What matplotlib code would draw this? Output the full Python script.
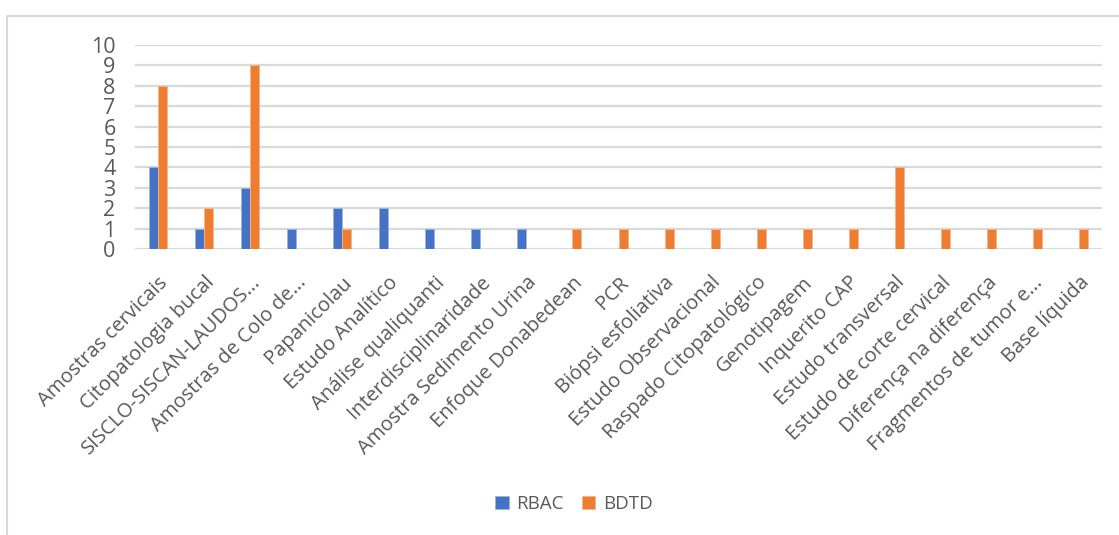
import numpy as np
import matplotlib.pyplot as plt
from matplotlib.lines import Line2D

plt.rcParams['font.family'] = ['Open Sans', 'DejaVu Sans']

categorias = [
    'Amostras cervicais', 'Citopatologia bucal', 'SISCLO-SISCAN-LAUDOS...',
    'Amostras de Colo de...', 'Papanicolau', 'Estudo Analítico',
    'Análise qualiquanti', 'Interdisciplinaridade', 'Amostra Sedimento Urina',
    'Enfoque Donabedean', 'PCR', 'Biópsi esfoliativa', 'Estudo Observacional',
    'Raspado Citopatológico', 'Genotipagem', 'Inquerito CAP',
    'Estudo transversal', 'Estudo de corte cervical', 'Diferença na diferença',
    'Fragmentos de tumor e...', 'Base líquida',
]
rbac = [4, 1, 3, 1, 2, 2, 1, 1, 1, 0, 0, 0, 0, 0, 0, 0, 0, 0, 0, 0, 0]
bdtd = [8, 2, 9, 0, 1, 0, 0, 0, 0, 1, 1, 1, 1, 1, 1, 1, 4, 1, 1, 1, 1]

AZUL = '#4472C4'
LARANJA = '#ED7D31'
CINZA = '#595959'
GRADE = '#D9D9D9'

W, H = 1119, 535
fig = plt.figure(figsize=(W / 100, H / 100), dpi=100)
ax = fig.add_axes([135 / W, 1 - 249 / H, (1102 - 135) / W, (249 - 45) / H])

x = np.arange(len(categorias))
larg = 0.196
ax.bar(x - larg / 2, rbac, larg, color=AZUL, edgecolor='#9DB3E0', linewidth=0.6, label='RBAC', zorder=3)
ax.bar(x + larg / 2, bdtd, larg, color=LARANJA, edgecolor='#F5B48C', linewidth=0.6, label='BDTD', zorder=3)

ax.set_xlim(-0.5, len(categorias) - 0.5)
ax.set_ylim(0, 10)
ax.set_yticks(range(0, 11))
ax.yaxis.grid(True, color=GRADE, linewidth=1.6, zorder=0)
ax.set_axisbelow(True)
for s in ax.spines.values():
    s.set_visible(False)

ax.tick_params(axis='y', length=0, pad=14, labelsize=15.5, labelcolor=CINZA)
ax.tick_params(axis='x', length=0, pad=17, labelsize=14.5, labelcolor=CINZA)
ax.set_xticks(x)
ax.set_xticklabels(categorias, rotation=45, ha='right', va='top', rotation_mode='anchor')

fig.legend(loc='center', bbox_to_anchor=(574 / W, 1 - 504 / H), ncol=2, frameon=False,
           fontsize=13.5, labelcolor=CINZA, handlelength=0.7, handleheight=0.7,
           handletextpad=0.4, columnspacing=1.0)

# moldura do gráfico
fig.add_artist(Line2D([7 / W, 7 / W, 1.0], [0.0, 1 - 16 / H, 1 - 16 / H],
                      transform=fig.transFigure, color=GRADE, linewidth=1.5))

fig.savefig('out.png', dpi=100, facecolor='white')
